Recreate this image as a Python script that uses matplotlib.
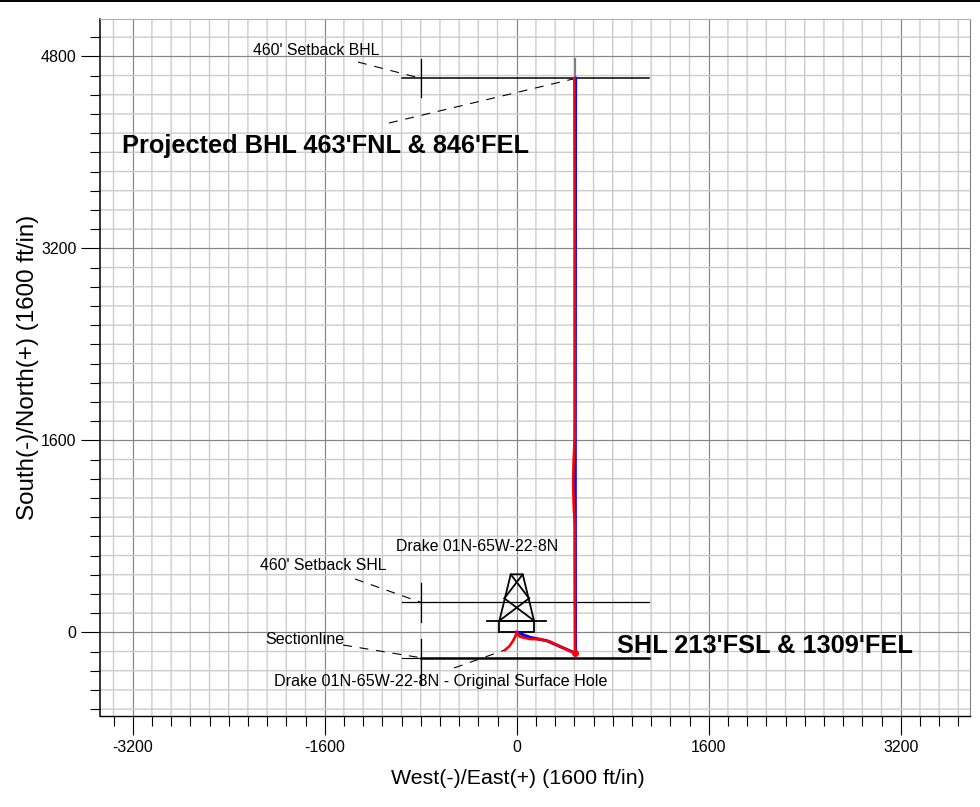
import matplotlib
matplotlib.use("Agg")
import matplotlib.pyplot as plt
import numpy as np
from matplotlib.lines import Line2D

plt.rcParams["font.family"] = ["Liberation Sans", "DejaVu Sans"]
plt.rcParams["axes.unicode_minus"] = False

## Well paths (ft)
# Actual path, blue
blue_x = [0, 110, 250, 472, 490, 489, 488, 488, 489, 490, 491]
blue_y = [0, -42, -70, -167, -175, 300, 1200, 1600, 3200, 4400, 4617]
# Planned path, red
red_x = [0, 27, 111, 194, 278, 375, 486, 484, 483, 474, 470, 474, 483, 483, 481, 480]
red_y = [0, -37, -56, -58, -78, -125, -175, 300, 900, 1080, 1250, 1420, 1620, 3200, 4450, 4617]
# Original surface hole
orig_x = [0, -10, -30, -60, -97]
orig_y = [0, -30, -70, -115, -147]

## Lease lines
bhl_y = 4617
shl_y = 250
section_y = -212
line_x0 = -958
line_x1 = 1103
tick_x = -800

## Rig symbol
rig_floor_x = [-244, 244]
rig_base_x = [-144, -144, 144, 144, -144]
rig_base_y = [0, 97, 97, 0, 0]
rig_left_x = [-144, -50, 50, 144]
rig_left_y = [97, 483, 483, 97]
rig_brace_x = [[-50, 103], [50, -103], [-103, 144], [103, -144]]
rig_brace_y = [[483, 283], [483, 283], [283, 97], [283, 97]]

## Leaders: x0, y0, x1, y1
leaders = [
    (-1322, 4752, -800, 4617),
    (-1064, 4244, 486, 4615),
    (-1347, 444, -800, 250),
    (-1447, -106, -800, -212),
    (-522, -297, -97, -147),
]

## Ticks
major_x = [-3200, -1600, 0, 1600, 3200]
major_y = [0, 1600, 3200, 4800]
minor_step = 160

fig = plt.figure(figsize=(9.8, 8.07), dpi=100)
ax = fig.add_axes([100.3 / 980, (807 - 716.3) / 807, 869.2 / 980, 697.3 / 807])
ax.set_xlim(-3470, 3773)
ax.set_ylim(-700, 5111)

# Grid
ax.set_xticks(major_x)
ax.set_yticks(major_y)
ax.set_xticks([v for v in np.arange(-3360, 3761, minor_step) if v % 1600 != 0], minor=True)
ax.set_yticks([v for v in np.arange(-640, 5001, minor_step) if v % 1600 != 0], minor=True)
ax.set_axisbelow(True)
ax.grid(which="minor", color="#cccccc", lw=1.0, snap=False)
ax.grid(which="major", color="#858585", lw=0.85)
ax.tick_params(which="major", length=13.7, width=0.8, color="black", labelsize=11.5, pad=3.5)
ax.tick_params(which="minor", length=7.2, width=0.8, color="black")
ax.spines["left"].set_linewidth(1.1)
ax.spines["bottom"].set_linewidth(1.0)
ax.spines["top"].set_color("#b0b0b0")
ax.spines["right"].set_color("#808080")

# Lease lines
ax.plot([line_x0, line_x1], [bhl_y, bhl_y], color="black", lw=1.1)
ax.plot([tick_x, tick_x], [bhl_y - 160, bhl_y + 160], color="black", lw=0.9)
ax.plot([486, 486], [bhl_y, bhl_y + 160], color="#808080", lw=1.6)
ax.plot([line_x0, line_x1], [shl_y, shl_y], color="black", lw=0.9)
ax.plot([tick_x, tick_x], [shl_y - 160, shl_y + 160], color="black", lw=0.9)
ax.plot([line_x0, tick_x], [section_y, section_y], color="black", lw=0.8)
ax.plot([tick_x, line_x1], [section_y, section_y], color="black", lw=1.8)
ax.plot([tick_x, tick_x], [section_y - 230, section_y + 160], color="black", lw=0.9)

# Rig
ax.plot(rig_floor_x, [97, 97], color="black", lw=1.3)
ax.plot(rig_base_x, rig_base_y, color="black", lw=1.3)
ax.plot(rig_left_x, rig_left_y, color="black", lw=1.3)
for bx, by in zip(rig_brace_x, rig_brace_y):
    ax.plot(bx, by, color="black", lw=1.3)

# Leaders
for x0, y0, x1, y1 in leaders:
    ax.plot([x0, x1], [y0, y1], color="black", lw=0.8, dashes=(8, 7))

# Paths
ax.plot(blue_x, blue_y, color="#0000ff", lw=2.2, solid_joinstyle="round")
ax.plot(red_x, red_y, color="#ff0000", lw=1.9, solid_joinstyle="round")
ax.plot(orig_x, orig_y, color="#ff0000", lw=1.9)
ax.plot(red_x[6], red_y[6], "o", color="#ff0000", ms=4)

# Labels
ax.text(-2197, 4852, "460' Setback BHL", fontsize=11.4, va="center")
ax.text(-2139, 560, "460' Setback SHL", fontsize=11.4, va="center")
ax.text(-2097, -64, "Sectionline", fontsize=11.6, va="center")
ax.text(-1006, 711, "Drake 01N-65W-22-8N", fontsize=11.4, va="center")
ax.text(-2022, -412, "Drake 01N-65W-22-8N - Original Surface Hole", fontsize=11.6, va="center")
ax.text(-3290, 4055, "Projected BHL 463'FNL & 846'FEL", fontsize=18.3, fontweight="bold", va="center")
ax.text(836, -118, "SHL 213'FSL & 1309'FEL", fontsize=18.3, fontweight="bold", va="center")

fig.text(517.5 / 980, 1 - 778 / 807, "West(-)/East(+) (1600 ft/in)", fontsize=15.4, ha="center", va="center")
fig.text(28 / 980, 1 - 367.5 / 807, "South(-)/North(+) (1600 ft/in)", fontsize=17.4, rotation=90, ha="center", va="center")

# Black rule along the top edge
fig.add_artist(Line2D([0, 1], [0.9992, 0.9992], color="black", lw=1.4))

fig.savefig("out.png", dpi=100)
